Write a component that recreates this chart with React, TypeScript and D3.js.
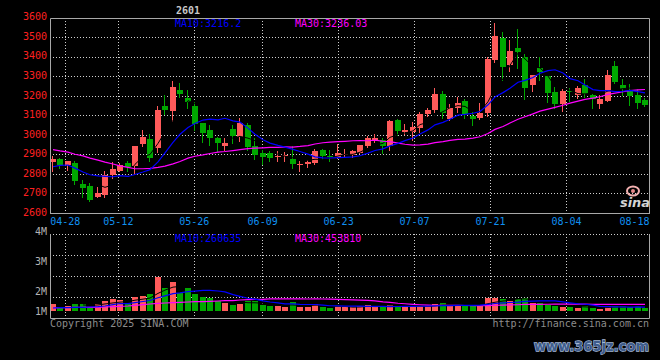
import React from "react";
import * as d3 from "d3";

const dates = [
  "04-24","04-25","04-28","04-29","04-30","05-06","05-07","05-08","05-09","05-12",
  "05-13","05-14","05-15","05-16","05-19","05-20","05-21","05-22","05-23","05-26",
  "05-27","05-28","05-29","05-30","06-03","06-04","06-05","06-06","06-09","06-10",
  "06-11","06-12","06-13","06-16","06-17","06-18","06-19","06-20","06-23","06-24",
  "06-25","06-26","06-27","06-30","07-01","07-02","07-03","07-04","07-07","07-08",
  "07-09","07-10","07-11","07-14","07-15","07-16","07-17","07-18","07-21","07-22",
  "07-23","07-24","07-25","07-28","07-29","07-30","07-31","08-01","08-04","08-05",
  "08-06","08-07","08-08","08-11","08-12","08-13","08-14","08-15","08-18","08-19",
];

const open = [
  2864, 2880, 2846, 2859, 2753, 2742, 2683, 2697, 2798, 2819,
  2859, 2841, 2954, 2981, 2937, 3151, 3124, 3230, 3190, 3149,
  3064, 3027, 2988, 2946, 3032, 2993, 3053, 2946, 2910, 2907,
  2888, 2892, 2880, 2848, 2854, 2858, 2925, 2893, 2888, 2898,
  2900, 2912, 2947, 2978, 2976, 2947, 3078, 3017, 3015, 3039,
  3108, 3129, 3210, 3083, 3142, 3174, 3098, 3090, 3112, 3383,
  3497, 3358, 3449, 3402, 3256, 3344, 3302, 3220, 3159, 3229,
  3205, 3256, 3205, 3158, 3176, 3353, 3256, 3230, 3208, 3180,
];
const high = [
  2893, 2886, 2871, 2866, 2773, 2756, 2737, 2815, 2861, 2859,
  2869, 2946, 3027, 3008, 3149, 3205, 3276, 3269, 3230, 3168,
  3064, 3053, 2993, 2985, 3053, 3086, 3061, 2985, 2927, 2920,
  2920, 2915, 2946, 2866, 2873, 2931, 2929, 2925, 2956, 2929,
  2925, 2951, 2998, 3007, 2985, 3080, 3083, 3058, 3069, 3117,
  3142, 3242, 3225, 3158, 3197, 3188, 3120, 3163, 3400, 3575,
  3527, 3490, 3544, 3417, 3310, 3402, 3302, 3247, 3239, 3244,
  3251, 3290, 3212, 3208, 3336, 3378, 3290, 3264, 3239, 3191,
];
const low = [
  2815, 2832, 2824, 2753, 2683, 2663, 2683, 2683, 2781, 2815,
  2815, 2802, 2946, 2871, 2917, 3108, 3073, 3198, 3141, 3027,
  2968, 2951, 2920, 2925, 2959, 2971, 2925, 2880, 2853, 2869,
  2866, 2866, 2832, 2815, 2836, 2853, 2880, 2866, 2883, 2887,
  2887, 2912, 2942, 2968, 2908, 2925, 3002, 3007, 2976, 3015,
  3100, 3120, 3090, 3076, 3117, 3090, 3053, 3083, 3100, 3375,
  3285, 3329, 3344, 3188, 3227, 3285, 3171, 3141, 3126, 3176,
  3192, 3197, 3141, 3141, 3175, 3268, 3205, 3154, 3141, 3151,
];
const close = [
  2881, 2846, 2866, 2764, 2729, 2671, 2707, 2798, 2829, 2846,
  2839, 2946, 2992, 2886, 3129, 3129, 3246, 3210, 3171, 3058,
  3014, 2988, 2963, 2963, 2998, 3061, 2942, 2897, 2890, 2886,
  2895, 2898, 2853, 2854, 2861, 2920, 2896, 2887, 2907, 2903,
  2920, 2951, 2988, 2988, 2947, 3073, 3024, 3027, 3042, 3108,
  3129, 3210, 3115, 3142, 3163, 3108, 3083, 3115, 3388, 3510,
  3349, 3429, 3425, 3242, 3307, 3324, 3217, 3161, 3225, 3222,
  3241, 3210, 3188, 3187, 3307, 3273, 3239, 3202, 3166, 3154,
];
const volume = [
  476000, 295000, 341000, 477000, 475000, 296000, 478000, 681000, 817000, 749000,
  477000, 953000, 1044000, 1180000, 2338000, 1589000, 1975000, 1248000, 1590000, 1181000,
  954000, 885000, 682000, 568000, 431000, 477000, 658000, 659000, 432000, 363000,
  341000, 295000, 613000, 296000, 294000, 476000, 295000, 182000, 340000, 250000,
  249000, 341000, 409000, 250000, 295000, 408000, 340000, 249000, 341000, 340000,
  341000, 477000, 568000, 340000, 409000, 408000, 409000, 341000, 908000, 909000,
  817000, 681000, 818000, 908000, 522000, 567000, 386000, 340000, 295000, 250000,
  182000, 341000, 181000, 136000, 340000, 341000, 340000, 295000, 341000, 182000,
];

// moving-average values before enough visible bars exist
const ma10Lead = [2839, 2846, 2848, 2832, 2812, 2798, 2792, 2790, 2788];
const ma30Lead = [
  2927, 2920, 2914, 2903, 2895, 2883, 2873, 2863, 2853, 2844,
  2836, 2829, 2829, 2831, 2836, 2842, 2854, 2866, 2883, 2893,
  2900, 2907, 2914, 2917, 2922, 2927, 2932, 2934, 2936,
];
const volMa10Lead = [204000, 227000, 228000, 250000, 251000, 272000, 295000, 341000, 431000];
const volMa30Lead = [
  204000, 227000, 227000, 250000, 250000, 250000, 250000, 272000, 295000, 318000,
  341000, 386000, 431000, 477000, 522000, 545000, 568000, 590000, 613000, 636000,
  636000, 658000, 681000, 704000, 704000, 749000, 772000, 795000, 795000,
];

const priceTicks = [3600, 3500, 3400, 3300, 3200, 3100, 3000, 2900, 2800, 2700, 2600];
const volTickLabels = ["4M", "3M", "2M", "1M"];
const volTickValues = [4, 3, 2, 1];
const dateTicks = ["04-28", "05-12", "05-26", "06-09", "06-23", "07-07", "07-21", "08-04", "08-18"];
const volAxisMax = 5240000;

const title = "2601";
const priceMaText = ["MA10:3216.2", "MA30:3236.03"];
const volMaText = ["MA10:260635", "MA30:453810"];
const copyright = "Copyright 2025 SINA.COM";
const siteUrl = "http://finance.sina.com.cn";
const watermark = "www.365jz.com";

const RED = "#ff5a5a";
const GREEN = "#00a800";
const BLUE = "#0000ff";
const MAG = "#ff00ff";
const FRAME = "#a8a8a8";
const DOT = "#cfcfcf";
const MONO = "'DejaVu Sans Mono', monospace";

function movingAvg(src: number[], n: number, lead: number[]): number[] {
  return src.map((_, i) => (i < n - 1 ? lead[i] : (d3.mean(src.slice(i - n + 1, i + 1)) as number)));
}
function movingAvgPartial(src: number[], n: number): (number | null)[] {
  return src.map((_, i) => (i < n - 1 ? null : (d3.mean(src.slice(i - n + 1, i + 1)) as number)));
}

export default function App() {
  const N = dates.length;
  const L = 50, R = 650, PT = 18, PB = 213.5, VT = 234, VB = 318, VBASE = 311;

  const x = d3
    .scaleBand<number>()
    .domain(d3.range(N))
    .range([L, R])
    .paddingInner(0.2)
    .paddingOuter(0.1)
    .align(0);
  const bw = Math.round(x.bandwidth());
  const left = (i: number) => Math.floor(x(i) as number);
  const mid = (i: number) => left(i) + bw / 2;
  const gx = d3.scaleLinear().domain([0, N - 1]).range([L, R]);

  const [pMin, pMax] = d3.extent(priceTicks) as [number, number];
  const y = d3.scaleLinear().domain([pMin, pMax]).range([PB, PT]);
  const vy = d3.scaleLinear().domain([0, volAxisMax]).range([VBASE, VT]);
  const vLabelY = d3.scaleLinear().domain([4, 1]).range([231, 321]);

  const ma10 = movingAvg(close, 10, ma10Lead);
  const ma30 = movingAvg(close, 30, ma30Lead);
  const ma5 = movingAvgPartial(close, 5);
  const vma10 = movingAvg(volume, 10, volMa10Lead);
  const vma30 = movingAvg(volume, 30, volMa30Lead);
  const vma5 = movingAvgPartial(volume, 5);

  const priceLine = d3
    .line<number | null>()
    .defined((d) => d != null)
    .x((_, i) => mid(i))
    .y((d) => y(d as number));
  const volLine = d3
    .line<number | null>()
    .defined((d) => d != null)
    .x((_, i) => mid(i))
    .y((d) => vy(d as number));

  const tickIdx = dateTicks.map((t) => dates.indexOf(t));
  const vGrid = d3.range(1, 4).map((i) => VT + ((VB - VT) * i) / 4);

  return (
    <div style={{ position: "fixed", left: 0, top: 0, width: 660, height: 360, background: "#000" }}>
      <svg width={660} height={360} style={{ display: "block" }}>
        <rect x={0} y={0} width={660} height={360} fill="#000" />

        {/* title */}
        <text x={188} y={14} fill="#c8c8c8" fontFamily={MONO} fontSize={10} fontWeight="bold" textAnchor="middle">
          {title}
        </text>

        {/* price gridlines */}
        {priceTicks.slice(1, -1).map((t) => (
          <line key={t} x1={L} x2={R} y1={Math.floor(y(t)) + 0.5} y2={Math.floor(y(t)) + 0.5} stroke={DOT} strokeDasharray="1 2" />
        ))}
        {tickIdx.slice(0, -1).map((k) => (
          <line key={"vg" + k} x1={Math.floor(gx(k)) + 0.5} x2={Math.floor(gx(k)) + 0.5} y1={PT} y2={PB} stroke={DOT} strokeDasharray="1 2" />
        ))}

        {/* volume gridlines */}
        <line x1={L} x2={R} y1={VT + 0.5} y2={VT + 0.5} stroke={DOT} strokeDasharray="1 2" />
        {vGrid.map((g) => (
          <line key={g} x1={L} x2={R} y1={Math.floor(g) + 0.5} y2={Math.floor(g) + 0.5} stroke={DOT} strokeDasharray="1 2" />
        ))}
        {tickIdx.slice(0, -1).map((k) => (
          <line key={"vv" + k} x1={Math.floor(gx(k)) + 0.5} x2={Math.floor(gx(k)) + 0.5} y1={VT} y2={VB} stroke={DOT} strokeDasharray="1 2" />
        ))}

        {/* sina logo */}
        <g>
          <ellipse cx={633} cy={191} rx={6} ry={4.5} fill="none" stroke="#f2b0b0" strokeWidth={2} />
          <circle cx={633} cy={191} r={2} fill="#e88a8a" />
          <text x={620} y={207} fill="#d4d4d4" fontFamily="'DejaVu Sans', sans-serif" fontStyle="italic" fontWeight="bold" fontSize={13} textLength={30} lengthAdjust="spacingAndGlyphs">
            sina
          </text>
        </g>

        {/* candles */}
        {d3.range(N).map((i) => {
          const up = close[i] >= open[i];
          const col = up ? RED : GREEN;
          const yT = Math.round(y(Math.max(open[i], close[i])));
          const yB = Math.round(y(Math.min(open[i], close[i])));
          const yH = Math.round(y(high[i]));
          const yL = Math.round(y(low[i]));
          return (
            <g key={"c" + i}>
              <line x1={left(i) + 2.5} x2={left(i) + 2.5} y1={yH} y2={yL + 1} stroke={col} />
              <rect x={left(i)} y={yT} width={bw} height={Math.max(1, yB - yT)} fill={col} />
            </g>
          );
        })}
        <path d={priceLine(ma5) || ""} fill="none" stroke="#000" strokeWidth={1} />
        <path d={priceLine(ma30) || ""} fill="none" stroke={MAG} strokeWidth={1.2} />
        <path d={priceLine(ma10) || ""} fill="none" stroke={BLUE} strokeWidth={1.2} />

        {/* volume bars */}
        {d3.range(N).map((i) => {
          const up = close[i] >= open[i];
          const top = Math.round(vy(volume[i]));
          return <rect key={"v" + i} x={left(i)} y={top} width={bw} height={VBASE - top} fill={up ? RED : GREEN} />;
        })}
        <path d={volLine(vma5) || ""} fill="none" stroke="#000" strokeWidth={1} />
        <path d={volLine(vma30) || ""} fill="none" stroke={MAG} strokeWidth={1.2} />
        <path d={volLine(vma10) || ""} fill="none" stroke={BLUE} strokeWidth={1.2} />

        {/* frames */}
        <path d={`M${L + 0.5},${PB} V${PT + 0.5} H${R - 0.5} V${PB}`} fill="none" stroke={FRAME} />
        <line x1={L} x2={R} y1={PB} y2={PB} stroke={FRAME} />
        <path d={`M${L + 0.5},${VT} V${VB + 0.5} H${R - 0.5} V${VT}`} fill="none" stroke={FRAME} />

        {/* MA labels */}
        <text x={175} y={27} fill={BLUE} fontFamily={MONO} fontSize={10}>{priceMaText[0]}</text>
        <text x={295} y={27} fill={MAG} fontFamily={MONO} fontSize={10}>{priceMaText[1]}</text>
        <text x={175} y={242} fill={BLUE} fontFamily={MONO} fontSize={10}>{volMaText[0]}</text>
        <text x={295} y={242} fill={MAG} fontFamily={MONO} fontSize={10}>{volMaText[1]}</text>

        {/* price axis labels */}
        {priceTicks.map((t) => (
          <text key={"pl" + t} x={47} y={y(t) + 2.3} fill="#ff2020" fontFamily={MONO} fontSize={10} textAnchor="end">
            {t}
          </text>
        ))}

        {/* volume axis labels */}
        {volTickValues.map((v, j) => (
          <text key={"vl" + v} x={47} y={Math.min(vLabelY(v), 311) + 3.6} fill="#b4b4b4" fontFamily={MONO} fontSize={10} textAnchor="end">
            {volTickLabels[j]}
          </text>
        ))}

        {/* date labels */}
        {dateTicks.map((t, j) => {
          const last = j === dateTicks.length - 1;
          return (
            <text
              key={"d" + t}
              x={last ? R - 0.5 : gx(tickIdx[j])}
              y={225.3}
              fill="#1090f0"
              fontFamily={MONO}
              fontSize={10}
              textAnchor={last ? "end" : "middle"}
            >
              {t}
            </text>
          );
        })}

        {/* footer */}
        <text x={50} y={327} fill="#8c8c8c" fontFamily={MONO} fontSize={10}>{copyright}</text>
        <text x={649} y={327} fill="#8c8c8c" fontFamily={MONO} fontSize={10} textAnchor="end">{siteUrl}</text>

        {/* watermark */}
        <text
          x={534}
          y={351}
          fill="#3e5c8c"
          stroke="#a4b8d6"
          strokeWidth={1.3}
          paintOrder="stroke"
          fontFamily="'DejaVu Sans', sans-serif"
          fontWeight="bold"
          fontSize={13.5}
          textLength={115}
          lengthAdjust="spacingAndGlyphs"
        >
          {watermark}
        </text>
      </svg>
    </div>
  );
}
